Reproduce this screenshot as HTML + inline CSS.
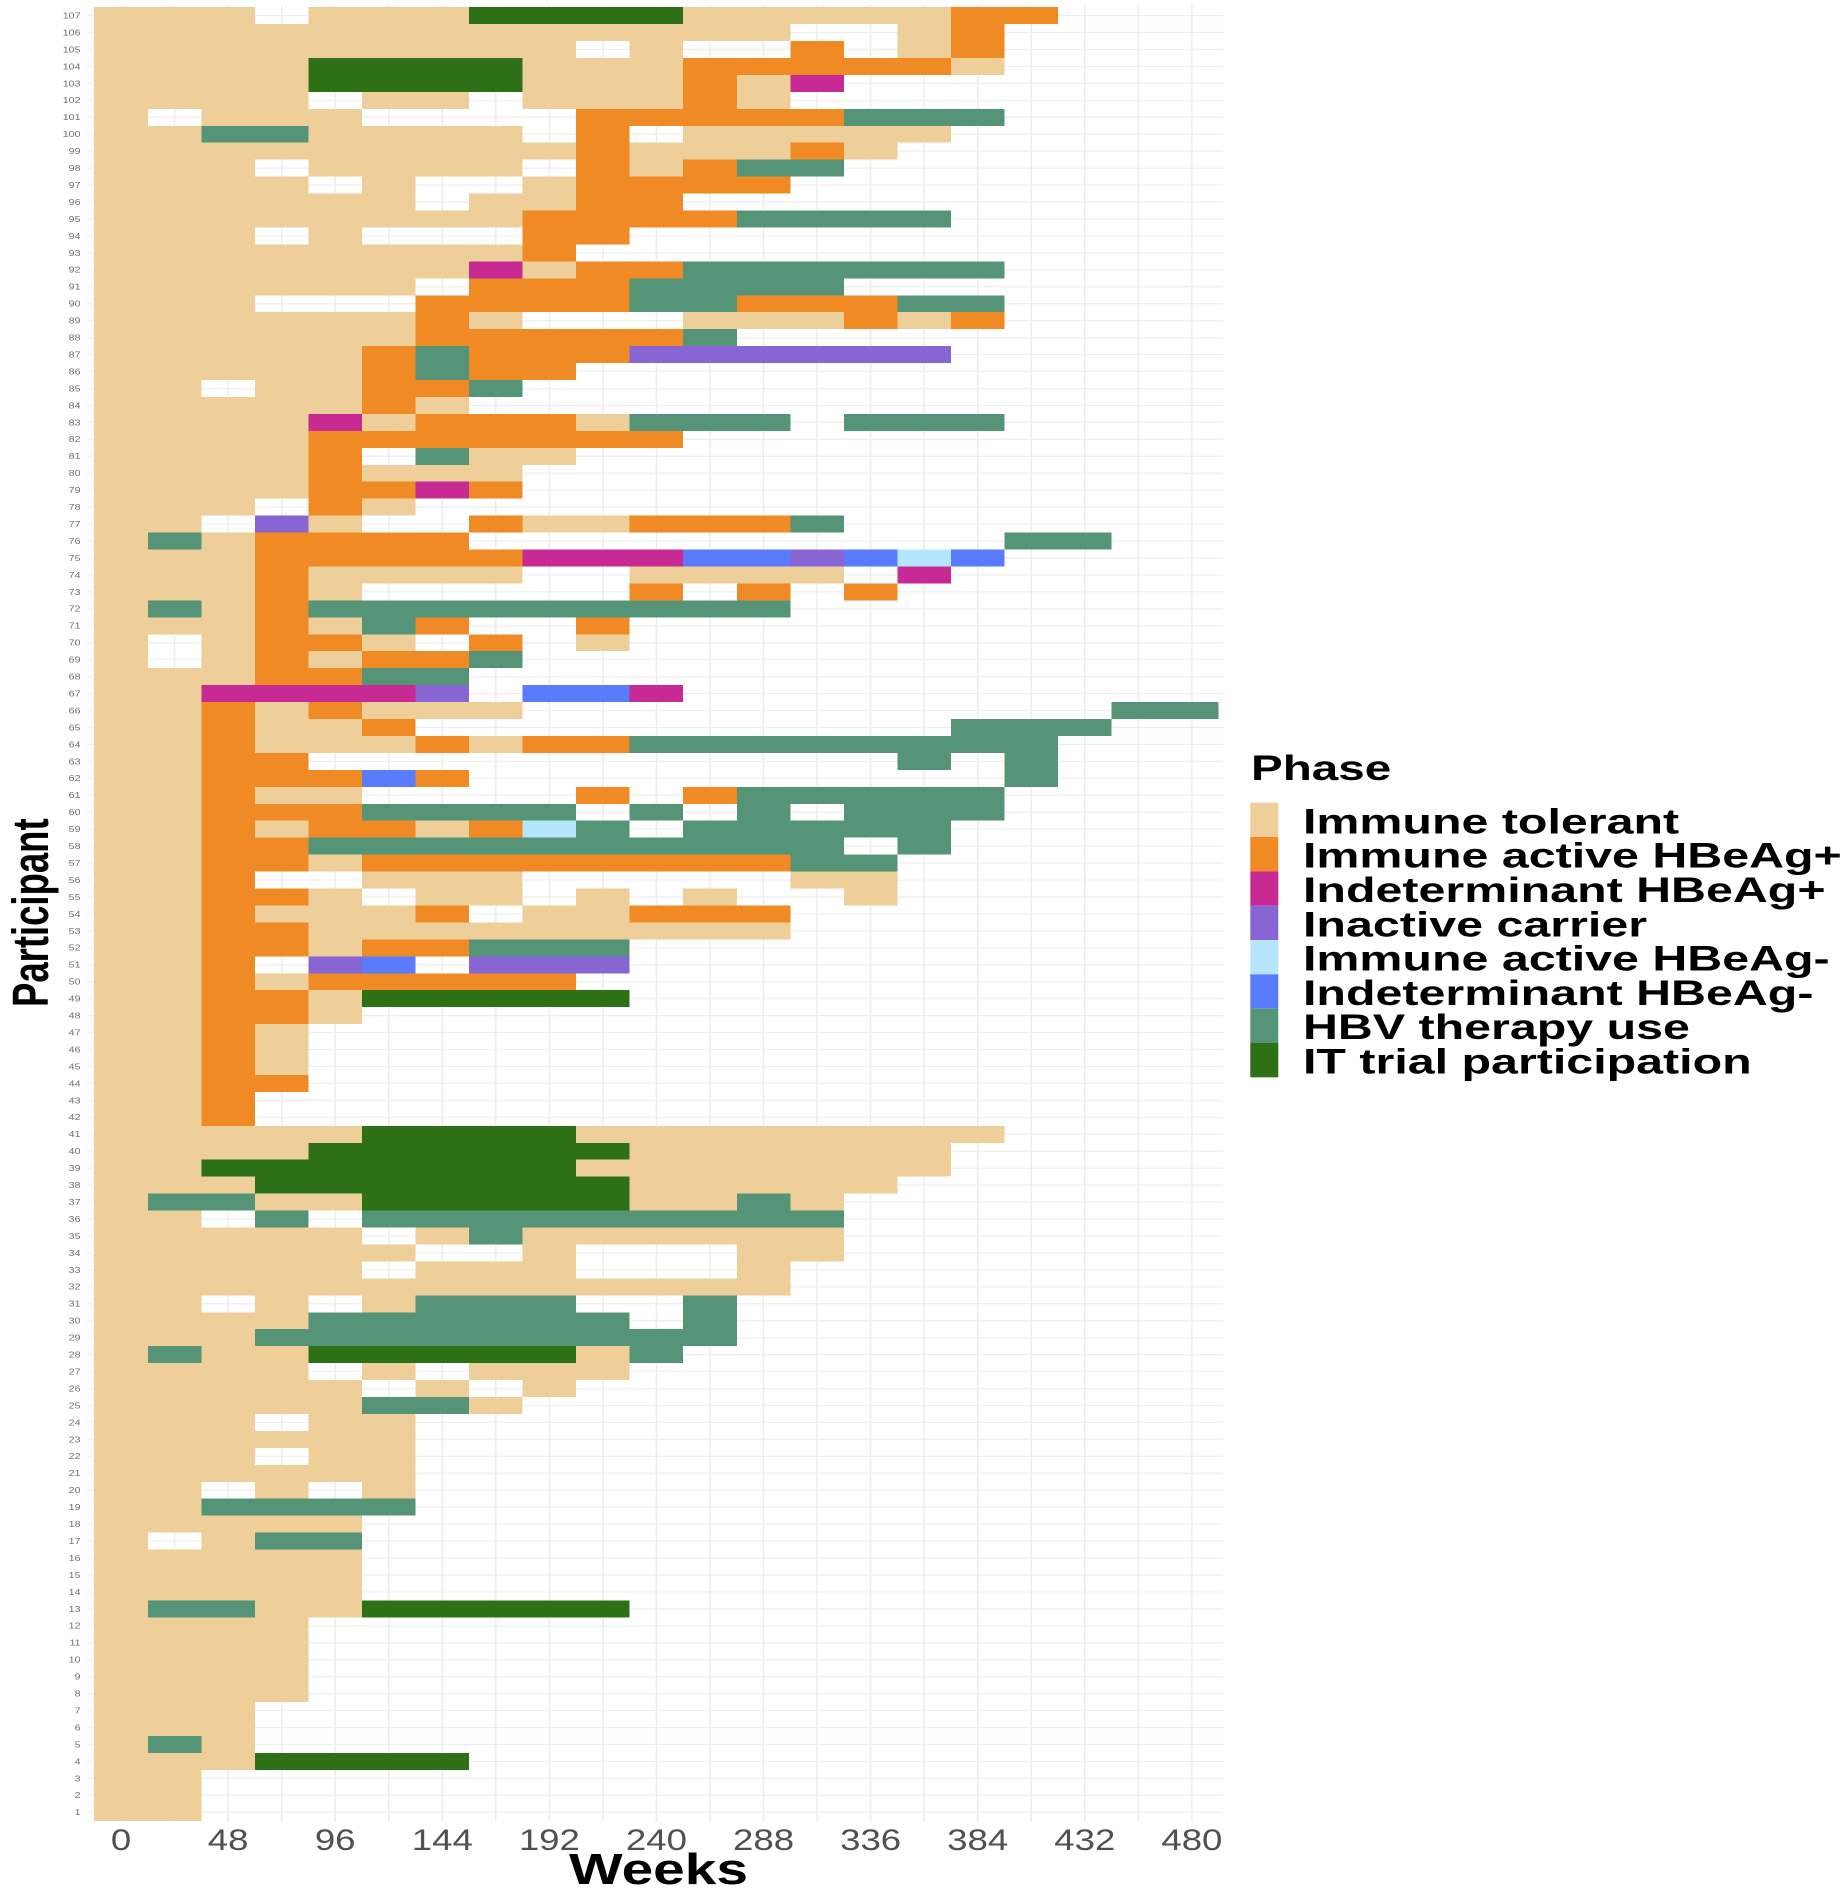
<!DOCTYPE html>
<html lang="en">
<head>
<meta charset="utf-8">
<title>Participant phases by week</title>
<style>
html,body{margin:0;padding:0;background:#fff;}
svg{display:block;}
text{font-family:"Liberation Sans",sans-serif;}
</style>
</head>
<body>
<svg id="chart" xmlns="http://www.w3.org/2000/svg" width="1846" height="1891" viewBox="0 0 1846 1891">
<rect x="0" y="0" width="1846" height="1891" fill="#ffffff"/>
<g id="grid"></g>
<g id="cells" shape-rendering="crispEdges"></g>
<g id="yTicks"></g>
<g id="xTicks"></g>
<g id="titles"></g>
<g id="legend"></g>
</svg>
<script>
const participantIds = [107,106,105,104,103,102,101,100,99,98,97,96,95,94,93,92,91,90,89,88,87,86,85,84,83,82,81,80,79,78,77,76,75,74,73,72,71,70,69,68,67,66,65,64,63,62,61,60,59,58,57,56,55,54,53,52,51,50,49,48,47,46,45,44,43,42,41,40,39,38,37,36,35,34,33,32,31,30,29,28,27,26,25,24,23,22,21,20,19,18,17,16,15,14,13,12,11,10,9,8,7,6,5,4,3,2,1];
const visitWeeks = [0,24,48,72,96,120,144,168,192,216,240,264,288,312,336,360,384,408,432,456,480];
const xTickLabels = [0,48,96,144,192,240,288,336,384,432,480];
const phaseCodes = ["T","O","M","P","L","B","G","D"];
const phaseNames = ["Immune tolerant","Immune active HBeAg+","Indeterminant HBeAg+","Inactive carrier","Immune active HBeAg-","Indeterminant HBeAg-","HBV therapy use","IT trial participation"];
const phaseColors = ["#EECF9A","#F08A24","#C72A92","#8765D2","#B5E6FE","#5A7BFE","#559476","#2D7015"];
// One string per participant, in the order of participantIds; each character is the phase at that visit week.
const phaseByVisit = [
"TTT.TTTDDDDTTTTTOO",
"TTTTTTTTTTTTT..TO",
"TTTTTTTTT.T..O.TO",
"TTTTDDDDTTTOOOOOT",
"TTTTDDDDTTTOTM",
"TTTT.TT.TTTOT",
"T.TTT....OOOOOGGG",
"TTGGTTTT.O.TTTTT",
"TTTTTTTTTOTTTOT",
"TTT.TTTT.OTOGG",
"TTTT.T..TOOOO",
"TTTTTT.TTOO",
"TTTTTTTTOOOOGGGG",
"TTT.T...OO",
"TTTTTTTTO",
"TTTTTTTMTOOGGGGGG",
"TTTTTT.OOOGGGG",
"TTT...OOOOGGOOOGG",
"TTTTTTOT...TTTOTO",
"TTTTTTOOOOOG",
"TTTTTOGOOOPPPPPP",
"TTTTTOGOO",
"TT.TTOOG",
"TTTTTOT",
"TTTTMTOOOTGGG.GGG",
"TTTTOOOOOOO",
"TTTTO.GTT",
"TTTTOTTT",
"TTTTOOMO",
"TTT.OT",
"TT.PT..OTTOOOG",
"TGTOOOO..........GG",
"TTTOOOOOMMMBBPBLB",
"TTTOTTTT..TTTT.M",
"TTTOT.....O.O.O",
"TGTOGGGGGGGGG",
"TTTOTGO..O",
"T.TOOT.O.T",
"T.TOTOOG",
"TTTOOGG",
"TTMMMMP.BBM",
"TTOTOTTT...........GG",
"TTOTTO..........GGG",
"TTOTTTOTOOGGGGGGGG",
"TTOO...........G.G",
"TTOOOBO..........G",
"TTOTT....O.OGGGGG",
"TTOOOGGGG.G.G.GGG",
"TTOTOOTOLG.GGGGG",
"TTOOGGGGGGGGGG.G",
"TTOOTOOOOOOOOGG",
"TTO..TTT.....TT",
"TTOOT.TT.T.T..T",
"TTOTTTO.TTOOO",
"TTOOTTTTTTTTT",
"TTOOTOOGGG",
"TTO.PB.PPP",
"TTOTOOOOO",
"TTOOTDDDDD",
"TTOOT",
"TTOT",
"TTOT",
"TTOT",
"TTOO",
"TTO",
"TTO",
"TTTTTDDDDTTTTTTTT",
"TTTTDDDDDDTTTTTT",
"TTDDDDDDDTTTTTTT",
"TTTDDDDDDDTTTTT",
"TGGTTDDDDDTTGT",
"TT.G.GGGGGGGGG",
"TTTTT.TGTTTTTT",
"TTTTTT..T...TT",
"TTTTT.TTT...T",
"TTTTTTTTTTTTT",
"TT.T.TGGG..G",
"TTTTGGGGGG.G",
"TTTGGGGGGGGG",
"TGTTDDDDDTG",
"TTTT.T.TTT",
"TTTTT.T.T",
"TTTTTGGT",
"TTT.TT",
"TTTTTT",
"TTT.TT",
"TTTTTT",
"TT.T.T",
"TTGGGG",
"TTTTT",
"T.TGG",
"TTTTT",
"TTTTT",
"TTTTT",
"TGGTTDDDDD",
"TTTT",
"TTTT",
"TTTT",
"TTTT",
"TTTT",
"TTT",
"TTT",
"TGT",
"TTTDDDD",
"TT",
"TT",
"TT"
];

const NS = "http://www.w3.org/2000/svg";
const PLOT = {left: 88, right: 1223, top: 5, bottom: 1822};
const WEEK_ZERO_X = 121, PX_PER_WEEK = 2.231;
const ROW_TOP = 7.1, ROW_HEIGHT = 16.95, MAX_ID = 107;
const CELL_WEEKS = 24;

function xScale(week) { return WEEK_ZERO_X + PX_PER_WEEK * week; }
function yScale(id) { return ROW_TOP + ROW_HEIGHT * (MAX_ID - id + 0.5); }

function make(tag, attrs, parent) {
  const el = document.createElementNS(NS, tag);
  for (const k in attrs) el.setAttribute(k, attrs[k]);
  parent.appendChild(el);
  return el;
}
function makeLabel(str, x, y, size, sx, anchor, weight, fill, parent) {
  const t = make("text", {
    transform: "translate(" + x + "," + y + ") scale(" + sx + ",1)",
    "font-size": size, "text-anchor": anchor, "font-weight": weight, fill: fill
  }, parent);
  t.textContent = str;
  return t;
}

const gridG = document.getElementById("grid");
participantIds.forEach(function (id) {
  const line = make("line", {x1: PLOT.left, x2: PLOT.right, y1: yScale(id), y2: yScale(id), stroke: "#eeeeee", "stroke-width": 1.2}, gridG);
  
  
});
visitWeeks.forEach(function (week) {
  const line = make("line", {x1: xScale(week), x2: xScale(week), y1: PLOT.top, y2: PLOT.bottom, stroke: "#ececec", "stroke-width": 1.5}, gridG);
  
  
});

const cellsG = document.getElementById("cells");
participantIds.forEach(function (id, rowIndex) {
  const codes = phaseByVisit[rowIndex];
  for (let i = 0; i < codes.length; i++) {
    const phaseIndex = phaseCodes.indexOf(codes[i]);
    if (phaseIndex < 0) continue;
    const week = visitWeeks[i];
    const x0 = xScale(week - CELL_WEEKS / 2), x1 = xScale(week + CELL_WEEKS / 2);
    const yc = yScale(id);
    const cell = make("rect", {x: x0, y: yc - ROW_HEIGHT / 2, width: x1 - x0, height: ROW_HEIGHT, fill: phaseColors[phaseIndex]}, cellsG);
    
    
  }
});

const yTicksG = document.getElementById("yTicks");
participantIds.forEach(function (id) {
  const label = makeLabel(String(id), 80.5, yScale(id) + 2.9, 8, 1.33, "end", "normal", "#6f6f6f", yTicksG);
  
  
});

const xTicksG = document.getElementById("xTicks");
xTickLabels.forEach(function (week) {
  const label = makeLabel(String(week), xScale(week), 1850, 30, 1.22, "middle", "normal", "#505050", xTicksG);
  
  
});

const titlesG = document.getElementById("titles");
const xTitle = makeLabel("Weeks", 569, 1884, 43.5, 1.306, "start", "bold", "#000000", titlesG);


const yTitle = make("text", {
  transform: "translate(48.2,1007) rotate(-90) scale(1,1.39)",
  "font-size": 36.5, "font-weight": "bold", fill: "#000000"
}, titlesG);
yTitle.textContent = "Participant";



const legendG = document.getElementById("legend");
const legendTitle = makeLabel("Phase", 1251, 780, 35, 1.36, "start", "bold", "#000000", legendG);


const KEY_TOP = 802.7, KEY_H = 34.33;
phaseNames.forEach(function (name, i) {
  const key = make("rect", {x: 1250.3, y: KEY_TOP + i * KEY_H, width: 28, height: KEY_H, fill: phaseColors[i]}, legendG);
  
  
  const label = makeLabel(name, 1303, KEY_TOP + (i + 0.5) * KEY_H + 13.4, 35, 1.382, "start", "bold", "#000000", legendG);
  
  
});
</script>
</body>
</html>
